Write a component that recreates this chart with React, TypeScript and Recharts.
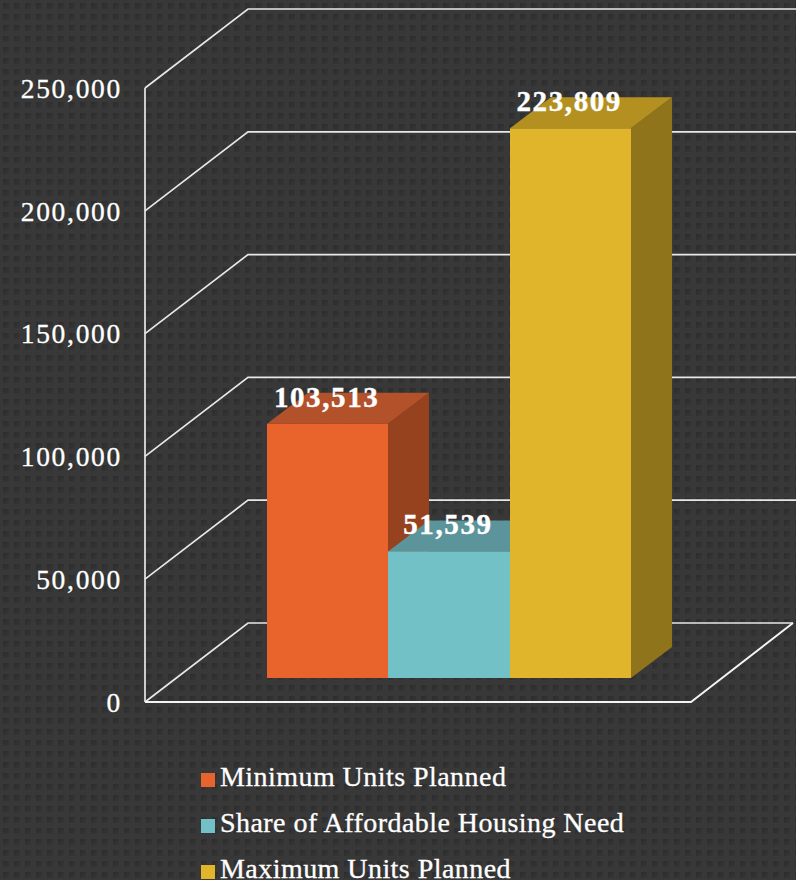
import React from "react";
import { BarChart, Bar, XAxis, YAxis, CartesianGrid, Legend, LabelList } from "recharts";

const categories = ["Units"];
const minimumUnits = [103513];
const affordableShare = [51539];
const maximumUnits = [223809];
const yTicks = [0, 50000, 100000, 150000, 200000, 250000];

const seriesNames = ["Minimum Units Planned", "Share of Affordable Housing Need", "Maximum Units Planned"];
const frontColors = ["#e8642c", "#71c1c7", "#e0b52c"];
const topColors = ["#b3512a", "#5b949b", "#b3901f"];
const sideColors = ["#96421f", "#4f8087", "#8f741c"];

const rows = categories.map((c, i) => ({
  name: c,
  minimum: minimumUnits[i],
  share: affordableShare[i],
  maximum: maximumUnits[i],
}));

const SERIF = "'Liberation Serif', serif";
const DX = 31, DY = -24, DEPTH_X = 41, DEPTH_Y = -31;
const WALL_X = 103, WALL_Y = -79;

const bgSvg = `<svg xmlns='http://www.w3.org/2000/svg' width='11' height='11'><defs><linearGradient id='g' x1='0' y1='0' x2='1' y2='1'><stop offset='0' stop-color='#2c2c2c'/><stop offset='1' stop-color='#363636'/></linearGradient></defs><rect width='11' height='11' fill='#383838'/><rect x='3' y='3' width='6' height='6' fill='url(#g)'/></svg>`;
const bgUrl = `url("data:image/svg+xml,${encodeURIComponent(bgSvg)}")`;

const bar3d = (i: number) => (props: any) => {
  const { x, y, width, height } = props;
  const l = Math.round(x + DX), r = Math.round(x + DX + width), t = y + DY, b = t + height;
  return (
    <g>
      <polygon points={`${r},${t} ${r + DEPTH_X},${t + DEPTH_Y} ${r + DEPTH_X},${b + DEPTH_Y} ${r},${b}`} fill={sideColors[i]} />
      <polygon points={`${l},${t} ${l + DEPTH_X},${t + DEPTH_Y} ${r + DEPTH_X},${t + DEPTH_Y} ${r},${t}`} fill={topColors[i]} />
      <rect x={l} y={t} width={r - l} height={height} fill={frontColors[i]} />
    </g>
  );
};

const gridLine = (props: any) => {
  const { x1, x2, y1, offset } = props;
  const isFloor = offset && Math.abs(y1 - (offset.top + offset.height)) < 1;
  const backY = y1 + WALL_Y;
  const backLeft = x1 + WALL_X;
  return (
    <g key={`grid-${y1}`}>
      <path
        d={`M${x1},${y1} L${backLeft},${backY} L${isFloor ? x2 + WALL_X - 1 : 797},${backY}`}
        fill="none"
        stroke="#e8e8e8"
        strokeWidth={1.7}
      />
      {isFloor && (
        <path
          d={`M${x1},${y1} L${x2},${y1} L${x2 + WALL_X - 1},${backY}`}
          fill="none"
          stroke="#f4f4f4"
          strokeWidth={1.9}
        />
      )}
    </g>
  );
};

const valueLabel = (props: any) => {
  const { x, y, width, value } = props;
  return (
    <text
      x={x + DX + width / 2 - 1}
      y={y + DY - 17}
      textAnchor="middle"
      fill="#ffffff"
      stroke="#ffffff"
      strokeWidth={0.4}
      fontFamily={SERIF}
      fontWeight={700}
      fontSize={29}
      letterSpacing={1.6}
    >
      {Number(value).toLocaleString("en-US")}
    </text>
  );
};

const legendContent = (props: any) => (
  <div style={{ position: "relative" }}>
    {(props.payload || []).map((p: any, i: number) => (
      <div
        key={p.value}
        style={{
          position: "absolute",
          top: i * 46,
          left: 0,
          height: 26,
          lineHeight: "26px",
          whiteSpace: "nowrap",
          fontFamily: SERIF,
          fontSize: 28,
          letterSpacing: 0.45,
          color: "#ffffff",
          WebkitTextStroke: "0.3px #ffffff",
        }}
      >
        <span style={{ display: "inline-block", width: 14, height: 14, background: p.color, marginRight: 5, verticalAlign: "-1px" }} />
        {p.value}
      </div>
    ))}
  </div>
);

export default function App() {
  return (
    <div
      style={{
        position: "absolute",
        left: 0,
        top: 0,
        width: 796,
        height: 880,
        overflow: "hidden",
        backgroundColor: "#383838",
        backgroundImage: bgUrl,
        backgroundSize: "11px 11px",
      }}
    >
      <BarChart
        width={796}
        height={880}
        data={rows}
        margin={{ top: 88, right: 105, bottom: 178, left: 0 }}
        barSize={121.3}
        barGap={0}
      >
        <CartesianGrid vertical={false} horizontal={gridLine} />
        <XAxis dataKey="name" tick={false} tickLine={false} axisLine={false} height={0} />
        <YAxis
          width={145}
          domain={[0, 250000]}
          ticks={yTicks}
          tickLine={false}
          tickMargin={17}
          axisLine={{ stroke: "#e8e8e8", strokeWidth: 1.7 }}
          tick={{ fill: "#ffffff", stroke: "#ffffff", strokeWidth: 0.3, fontFamily: SERIF, fontSize: 27.5, letterSpacing: 1.7 }}
          tickFormatter={(v: number) => v.toLocaleString("en-US")}
        />
        <Legend
          verticalAlign="bottom"
          itemSorter={null}
          content={legendContent}
          wrapperStyle={{ position: "absolute", left: 201, top: 764, width: 590, bottom: "auto" }}
        />
        <Bar dataKey="minimum" name={seriesNames[0]} fill={frontColors[0]} shape={bar3d(0)} isAnimationActive={false}>
          <LabelList dataKey="minimum" content={valueLabel} />
        </Bar>
        <Bar dataKey="share" name={seriesNames[1]} fill={frontColors[1]} shape={bar3d(1)} isAnimationActive={false}>
          <LabelList dataKey="share" content={valueLabel} />
        </Bar>
        <Bar dataKey="maximum" name={seriesNames[2]} fill={frontColors[2]} shape={bar3d(2)} isAnimationActive={false}>
          <LabelList dataKey="maximum" content={valueLabel} />
        </Bar>
      </BarChart>
    </div>
  );
}
